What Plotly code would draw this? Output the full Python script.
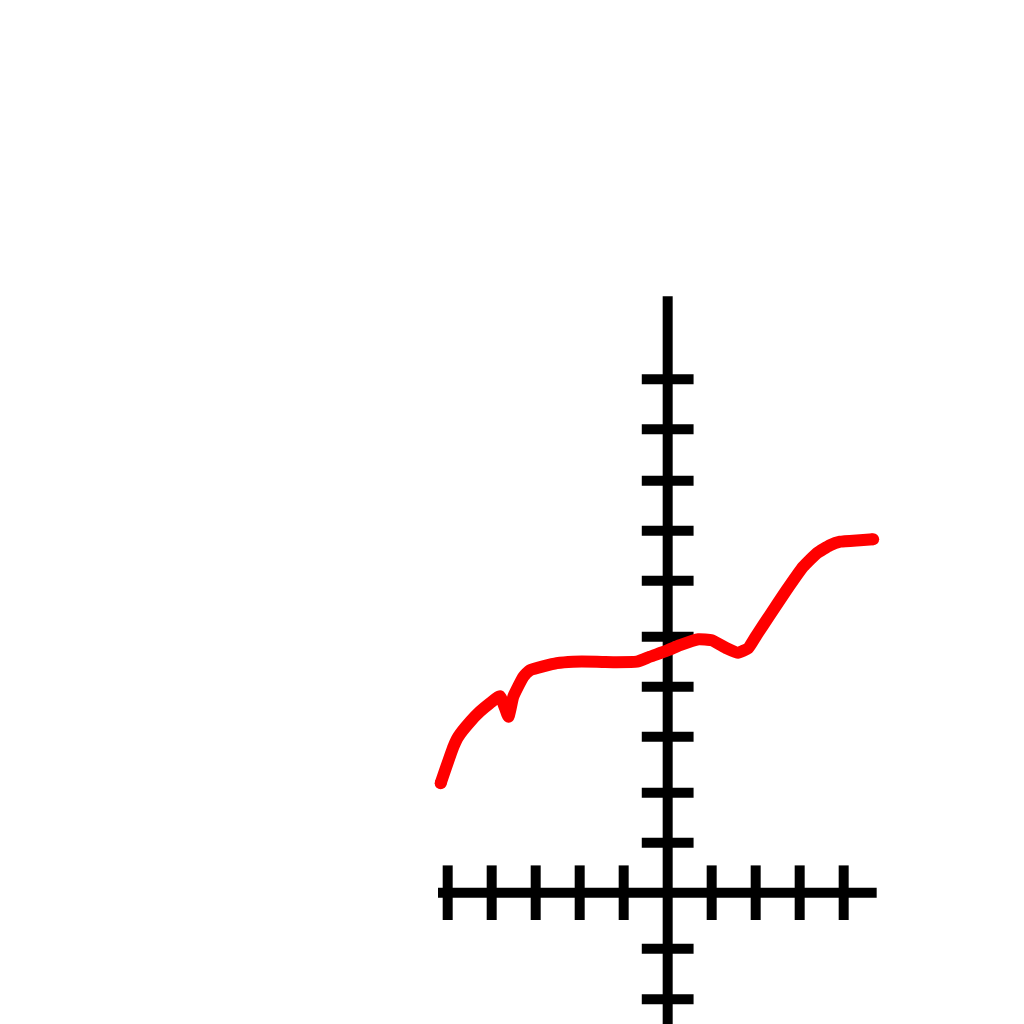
"""Hand-drawn style axes with a single red curve."""

import plotly.graph_objects as go

# axis extents (data units)
x_axis_span = [-5.22, 4.75]
y_axis_span = [11.93, -2.9]

# tick positions
x_ticks = [-5, -4, -3, -2, -1, 1, 2, 3, 4]
y_ticks = [10.27, 9.27, 8.24, 7.24, 6.24, 5.12, 4.12, 3.12, 2.0, 1.0, -1.12, -2.13]

# red curve
curve_x = [
    -5.16, -4.87, -4.76, -4.49, -4.27, -4.04, -3.81, -3.62, -3.51, -3.28,
    -3.13, -2.52, -2.15, -1.61, -1.16, -0.70, -0.40, -0.02, 0.28, 0.70,
    1.00, 1.34, 1.60, 1.83, 2.02, 2.32, 2.70, 3.08, 3.39, 3.69,
    3.92, 4.37, 4.67,
]
curve_y = [
    2.19, 2.92, 3.12, 3.42, 3.62, 3.79, 3.93, 3.52, 3.92, 4.32,
    4.45, 4.59, 4.62, 4.62, 4.61, 4.62, 4.72, 4.84, 4.95, 5.07,
    5.05, 4.89, 4.80, 4.89, 5.15, 5.55, 6.05, 6.52, 6.79, 6.95,
    7.02, 7.05, 7.07,
]

fig = go.Figure()

# x axis line and ticks
fig.add_trace(go.Scatter(
    x=x_axis_span, y=[0, 0], mode="lines",
    line={"color": "black", "width": 10}, hoverinfo="skip",
))
fig.add_trace(go.Scatter(
    x=x_ticks, y=[0] * len(x_ticks), mode="markers",
    marker={"symbol": "line-ns", "size": 39, "line": {"color": "black", "width": 10}},
    hoverinfo="skip",
))

# y axis ticks and line
fig.add_trace(go.Scatter(
    x=[0] * len(y_ticks), y=y_ticks, mode="markers",
    marker={"symbol": "line-ew", "size": 37, "line": {"color": "black", "width": 10}},
    hoverinfo="skip",
))
fig.add_trace(go.Scatter(
    x=[0, 0], y=y_axis_span, mode="lines",
    line={"color": "black", "width": 10}, hoverinfo="skip",
))

# the curve
fig.add_trace(go.Scatter(
    x=curve_x, y=curve_y, mode="lines",
    line={"color": "#ff0000", "width": 12, "shape": "spline", "smoothing": 0.4},
    hoverinfo="skip",
))
fig.add_trace(go.Scatter(
    x=[curve_x[0], curve_x[-1]], y=[curve_y[0], curve_y[-1]], mode="markers",
    marker={"color": "#ff0000", "size": 12}, hoverinfo="skip",
))

# page body adds an 8px offset, so the ranges are shifted to compensate
fig.update_xaxes(range=[-14.993, 8.28], visible=False, fixedrange=True)
fig.update_yaxes(range=[-2.786, 17.694], visible=False, fixedrange=True)
fig.update_layout(
    width=1024,
    height=1024,
    margin={"l": 0, "r": 0, "t": 0, "b": 0},
    showlegend=False,
    plot_bgcolor="white",
    paper_bgcolor="white",
)

fig.write_html("out.html", config={"displayModeBar": False})
